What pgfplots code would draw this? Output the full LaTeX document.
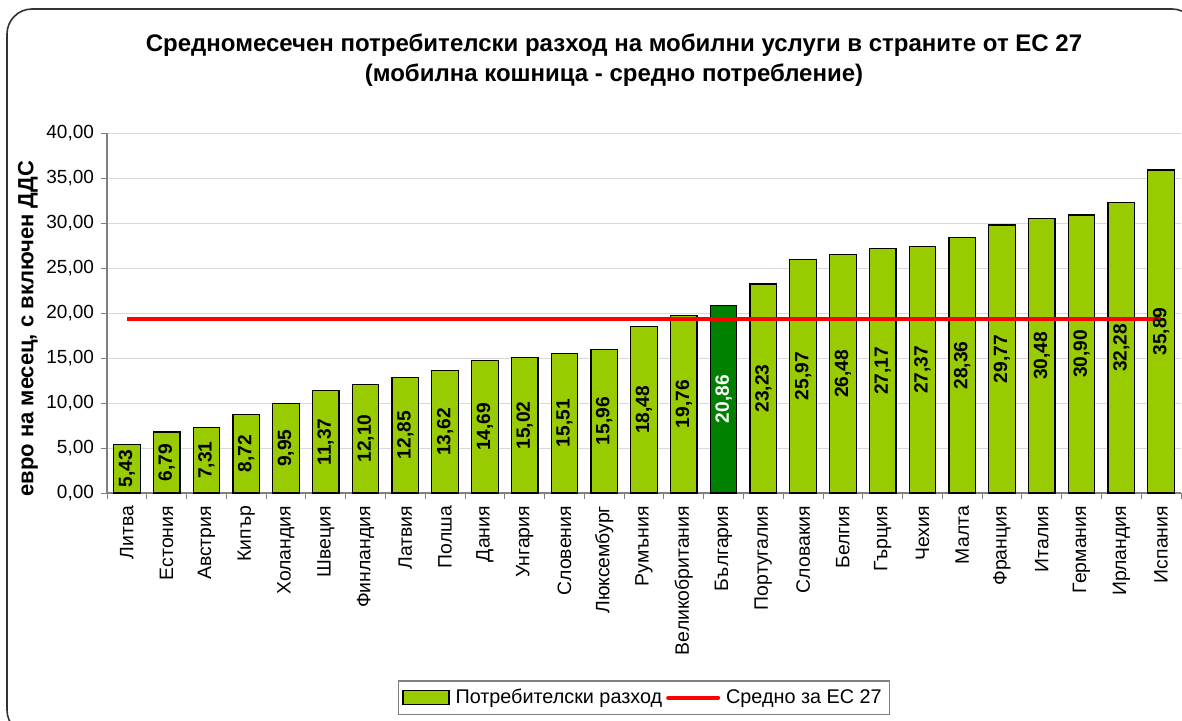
\documentclass[border=0pt]{standalone}
\usepackage{fontspec}
\setmainfont{Liberation Sans}
\usepackage{pgfplots}
\usepackage{pgfplotstable}
\pgfplotsset{compat=1.18}
\definecolor{barg}{HTML}{99CC00}
\definecolor{bgdark}{HTML}{008000}
\definecolor{gridg}{HTML}{D9D9D9}
\definecolor{axg}{HTML}{808080}
\pgfplotsset{
  barleg/.style={legend image code/.code={\draw[##1] (0pt,-3.5pt) rectangle (23pt,3.5pt);}},
  lineleg/.style={legend image code/.code={\draw[##1, line cap=round] (0pt,0pt) -- (25pt,0pt);}},
}

% consumer spending per country (euro / month), Bulgaria kept apart
\pgfplotstableread{
x y
0 5.43
1 6.79
2 7.31
3 8.72
4 9.95
5 11.37
6 12.10
7 12.85
8 13.62
9 14.69
10 15.02
11 15.51
12 15.96
13 18.48
14 19.76
16 23.23
17 25.97
18 26.48
19 27.17
20 27.37
21 28.36
22 29.77
23 30.48
24 30.90
25 32.28
26 35.89
}\spending
\pgfplotstableread{
x y
15 20.86
}\bulgaria

\begin{document}
\begin{tikzpicture}[x=0.5pt,y=0.5pt]
\useasboundingbox (0,0) rectangle (1182,720);
\draw[line width=0.8pt, black!80, rounded corners=12.5pt] (7,-15) rectangle (1197,711);
\node[font=\bfseries\fontsize{12}{15}\selectfont, align=center] at (614,660)
  {Средномесечен потребителски разход на мобилни услуги в страните от ЕС 27\\(мобилна кошница - средно потребление)};
\begin{axis}[
    at={(53.5pt,113.5pt)}, anchor=south west,
    scale only axis, width=537pt, height=180pt,
    xmin=-0.5, xmax=26.5, ymin=0, ymax=40,
    ybar, bar width=13.3pt, bar shift=0pt,
    axis x line*=bottom, axis y line*=left,
    axis line style={axg, line width=0.6pt},
    ytick={0,5,...,40},
    ymajorgrids, grid style={gridg, line width=0.5pt},
    yticklabel style={font=\fontsize{9.5}{11}\selectfont, /pgf/number format/.cd, fixed, fixed zerofill, precision=2, use comma, assume math mode=true},
    tick align=outside, major tick length=3pt,
    y tick style={axg, line width=0.5pt},
    xtick={0,...,26},
    xticklabels={Литва,Естония,Австрия,Кипър,Холандия,Швеция,Финландия,Латвия,Полша,Дания,Унгария,Словения,Люксембург,Румъния,Великобритания,България,Португалия,Словакия,Белгия,Гърция,Чехия,Малта,Франция,Италия,Германия,Ирландия,Испания},
    xticklabel style={rotate=90, anchor=east, font=\fontsize{9.7}{11}\selectfont},
    major x tick style={draw=none},
    minor xtick={-0.5,0.5,...,26.5},
    minor x tick style={axg, line width=0.5pt},
    minor tick length=3pt,
    ylabel={евро на месец, с включен ДДС},
    ylabel style={font=\bfseries\fontsize{11}{13}\selectfont, at={(axis description cs:-0.0736,0.456)}, anchor=center},
    visualization depends on=y \as \rawy,
    nodes near coords={\pgfmathprintnumber[fixed, fixed zerofill, precision=2, use comma, assume math mode=true]{\pgfplotspointmeta}},
    every node near coord/.append style={font=\bfseries\fontsize{9.6}{11}\selectfont, yshift={-2.25pt*\rawy}, rotate=90, anchor=center},
    legend style={at={(axis description cs:0.5,-0.569)}, anchor=center, draw=axg, line width=0.6pt,
        font=\fontsize{9.9}{11}\selectfont, legend columns=2, inner sep=2pt,
        /tikz/every odd column/.append style={column sep=1pt}},
]
\addplot[fill=barg, draw=black, line width=0.6pt, barleg]
    table[x=x, y=y] {\spending};
\addlegendentry{Потребителски разход}
\addplot[fill=bgdark, draw=black, line width=0.6pt, forget plot,
    every node near coord/.append style={white}]
    table[x=x, y=y] {\bulgaria};
\addplot[sharp plot, red, line width=2pt, nodes near coords={}, mark=none, lineleg]
    coordinates {(0,19.35) (26,19.35)};
\addlegendentry{Средно за ЕС 27}
\end{axis}
\end{tikzpicture}
\end{document}
